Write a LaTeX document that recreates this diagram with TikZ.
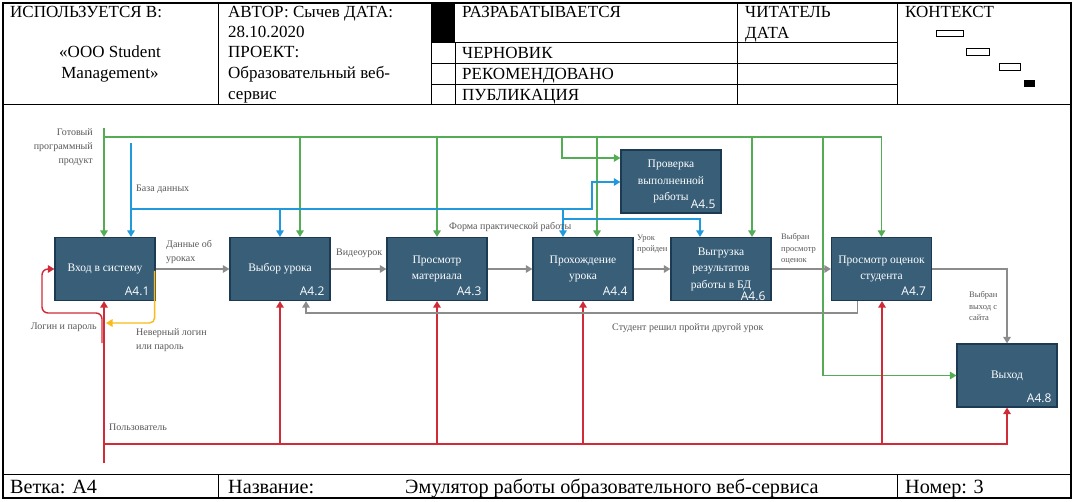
\documentclass[tikz,border=0pt]{standalone}
\usepackage{fontspec}
\setmainfont{Liberation Serif}
\newfontfamily\numfont{Open Sans}
\usetikzlibrary{arrows.meta,calc}

\definecolor{boxfill}{RGB}{56,94,120}
\definecolor{boxdraw}{RGB}{28,58,82}
\definecolor{cgreen}{RGB}{84,172,84}
\definecolor{cblue}{RGB}{32,154,220}
\definecolor{cred}{RGB}{208,44,56}
\definecolor{cgray}{RGB}{140,140,140}
\definecolor{corange}{RGB}{250,186,24}
\definecolor{labelc}{RGB}{88,88,88}

\begin{document}
\begin{tikzpicture}[x=1pt,y=-1pt,
  box/.style={draw=boxdraw, line width=1.2pt, fill=boxfill, minimum width=100pt, minimum height=63pt, inner sep=0pt, text=white, font=\fontsize{11.5}{16.5}\selectfont, align=center},
  num/.style={anchor=base east, text=white, font=\numfont\fontsize{12}{12}\selectfont, inner sep=0pt},
  ln/.style={line width=1.4pt},
  arr/.style={-{Triangle[length=6.5pt,width=7.5pt]}},
  gl/.style={ln, draw=cgreen, color=cgreen},
  bl/.style={ln, draw=cblue, color=cblue},
  rl/.style={ln, draw=cred, color=cred},
  grl/.style={ln, draw=cgray, color=cgray},
  ol/.style={ln, draw=corange, color=corange},
  lab/.style={text=labelc, font=\fontsize{10}{14}\selectfont, inner sep=0pt, align=left},
  slab/.style={text=labelc, font=\fontsize{8.5}{11.5}\selectfont, inner sep=0pt, align=left},
  hd/.style={font=\fontsize{17}{20}\selectfont, inner sep=0pt, anchor=base west},
  ft/.style={font=\fontsize{20.2}{24}\selectfont, inner sep=0pt, anchor=base west},
  frm/.style={line width=1pt, draw=black}
]
\useasboundingbox (0,0) rectangle (1075,502);
\fill[white] (0,0) rectangle (1075,502);

% ---------- frame, header, footer ----------
\draw[frm, line width=1.4pt] (3,3) rectangle (1071,498);
\draw[frm] (3,105) -- (1071,105);
\draw[frm] (218,3) -- (218,105);
\draw[frm] (431,3) -- (431,105);
\draw[frm] (455,43) -- (455,105);
\draw[frm] (737,3) -- (737,105);
\draw[frm] (897,3) -- (897,105);
\draw[frm] (431,43) -- (897,43);
\draw[frm] (431,64) -- (897,64);
\draw[frm] (431,85) -- (897,85);
\fill[black] (431,3) rectangle (455,43);
\draw[frm] (3,474) -- (1071,474);
\draw[frm] (218,474) -- (218,498);
\draw[frm] (897,474) -- (897,498);

\node[hd] (h1) at (10,18) {ИСПОЛЬЗУЕТСЯ В:};
\node[hd,anchor=base] (h2) at (110,58) {«ООО Student};
\node[hd,anchor=base] (h3) at (110,79) {Management»};
\node[hd] (h4) at (228,18) {АВТОР: Сычев ДАТА:};
\node[hd] (h5) at (228,38) {28.10.2020};
\node[hd] (h6) at (228,58) {ПРОЕКТ:};
\node[hd] (h7) at (228,79) {Образовательный веб-};
\node[hd] (h8) at (228,100) {сервис};
\node[hd] (h9) at (462,18) {РАЗРАБАТЫВАЕТСЯ};
\node[hd] (h10) at (462,59) {ЧЕРНОВИК};
\node[hd] (h11) at (462,80) {РЕКОМЕНДОВАНО};
\node[hd] (h12) at (462,101) {ПУБЛИКАЦИЯ};
\node[hd] (h13) at (745,18) {ЧИТАТЕЛЬ};
\node[hd] (h14) at (745,39) {ДАТА};
\node[hd] (h15) at (905,18) {КОНТЕКСТ};
\draw[line width=0.8pt] (936,30) rectangle (963,36);
\draw[line width=0.8pt] (966,48) rectangle (989,55);
\draw[line width=0.8pt] (999,63) rectangle (1020,70);
\fill[black] (1024,80) rectangle (1035,87);

\node[ft] (f1) at (10,493) {Ветка: A4};
\node[ft] (f2) at (228,493) {Название:};
\node[ft] (f3) at (405,493) {Эмулятор работы образовательного веб-сервиса};
\node[ft] (f4) at (905,493) {Номер: 3};

% ---------- boxes ----------
\node[box] (A41) at (105,269) {Вход в систему};
\node[box] (A42) at (280,269) {Выбор урока};
\node[box] (A43) at (437,269) {Просмотр\\материала};
\node[box] (A44) at (583,269) {Прохождение\\урока};
\node[box] (A45) at (671,181.5) {Проверка\\выполненной\\работы};
\node[box] (A46) at (721,269) {Выгрузка\\результатов\\работы в БД};
\node[box] (A47) at (881.5,269) {Просмотр оценок\\студента};
\node[box] (A48) at (1007,375.5) {Выход};
\foreach \b/\t in {A41/A4.1,A42/A4.2,A43/A4.3,A44/A4.4,A45/A4.5,A47/A4.7,A48/A4.8}
  \node[num] at ($(\b.south east)+(-6,-5.5)$) {\t};
\node[num] (n46) at ($(A46.south east)+(-6,-1)$) {A4.6};

% ---------- green: Готовый программный продукт ----------
\coordinate (gsrc) at (104,128);
\coordinate (gh) at (104,137);
\coordinate (g2) at (300,137);
\coordinate (g3) at (437,137);
\coordinate (g5) at (562,137);
\coordinate (g5b) at (562,158);
\coordinate (g4) at (597,137);
\coordinate (g6) at (752,137);
\coordinate (g8) at (823,137);
\draw[gl,arr] (gsrc) -- (gsrc |- A41.north);
\draw[gl,arr] (gh) -| (A47.north);
\draw[gl,arr] (g2) -- (g2 |- A42.north);
\draw[gl,arr] (g3) -- (g3 |- A43.north);
\draw[gl,arr] (g5) -- (g5b) -- (g5b -| A45.west);
\draw[gl,arr] (g4) -- (g4 |- A44.north);
\draw[gl,arr] (g6) -- (g6 |- A46.north);
\draw[gl,arr] (g8) |- (A48.west);

% ---------- blue: База данных ----------
\coordinate (bsrc) at (131,143);
\coordinate (bh) at (131,209);
\coordinate (b5) at (592,182);
\coordinate (b2) at (280,209);
\coordinate (b4) at (563,209);
\coordinate (b6) at (563,219);
\draw[bl,arr] (bsrc) -- (bsrc |- A41.north);
\draw[bl,arr] (bh) -| (b5) -- (b5 -| A45.west);
\draw[bl,arr] (b2) -- (b2 |- A42.north);
\draw[bl,arr] (b4) -- (b4 |- A44.north);
\draw[bl,arr] (b6) -| ($(A46.north)+(-21,0)$);

% ---------- red: Пользователь ----------
\coordinate (rsrc) at (104,463);
\coordinate (rh) at (104,444);
\coordinate (r2) at (280,444);
\coordinate (r3) at (437,444);
\coordinate (r4) at (583,444);
\coordinate (r7) at (882,444);
\draw[rl,arr] (rsrc) -- (rsrc |- A41.south);
\draw[rl,arr] (rh) -| (A48.south);
\draw[rl,arr] (r2) -- (r2 |- A42.south);
\draw[rl,arr] (r3) -- (r3 |- A43.south);
\draw[rl,arr] (r4) -- (r4 |- A44.south);
\draw[rl,arr] (r7) -- (r7 |- A47.south);
\coordinate (lp1) at (102,343);
\coordinate (lp2) at (42,313);
\draw[rl,arr,rounded corners=6pt] (lp1) |- (lp2) |- (A41.west);

% ---------- orange: Неверный логин или пароль ----------
\coordinate (lpin) at (106,323);
\draw[ol,arr,rounded corners=5pt] ($(A41.east)+(-1,2)$) |- (lpin);

% ---------- gray: outputs ----------
\draw[grl,arr] (A41) -- (A42);
\draw[grl,arr] (A42) -- (A43);
\draw[grl,arr] (A43) -- (A44);
\draw[grl,arr] (A44) -- (A46);
\draw[grl,arr] (A46) -- (A47);
\draw[grl,arr] (A47.east) -| (A48.north);
\draw[grl,arr] ($(A47.south)+(-24,0)$) -- ++(0,12) -| ($(A42.south)+(26,0)$);

% ---------- labels ----------
\node[lab,anchor=east,align=right] (lgot) at (93,147) {Готовый\\программный\\продукт};
\node[lab,anchor=west] (lbd) at (136,189) {База данных};
\node[lab,anchor=west] (ldu) at (166,252) {Данные об\\уроках};
\node[lab,anchor=west] (lvid) at (336,253) {Видеоурок};
\node[lab,anchor=west] (lform) at (449,227) {Форма практической работы};
\node[slab,anchor=west] (lurok) at (637,244) {Урок\\пройден};
\node[slab,anchor=west] (lvp) at (781,249) {Выбран\\просмотр\\оценок};
\node[slab,anchor=west] (lvv) at (969,306) {Выбран\\выход с\\сайта};
\node[lab,anchor=west] (lstud) at (612,328) {Студент решил пройти другой урок};
\node[lab,anchor=east] (llog) at (97,327) {Логин и пароль};
\node[lab,anchor=west] (lnev) at (136,340) {Неверный логин\\или пароль};
\node[lab,anchor=west] (lpol) at (109,427) {Пользователь};
\end{tikzpicture}
\end{document}
